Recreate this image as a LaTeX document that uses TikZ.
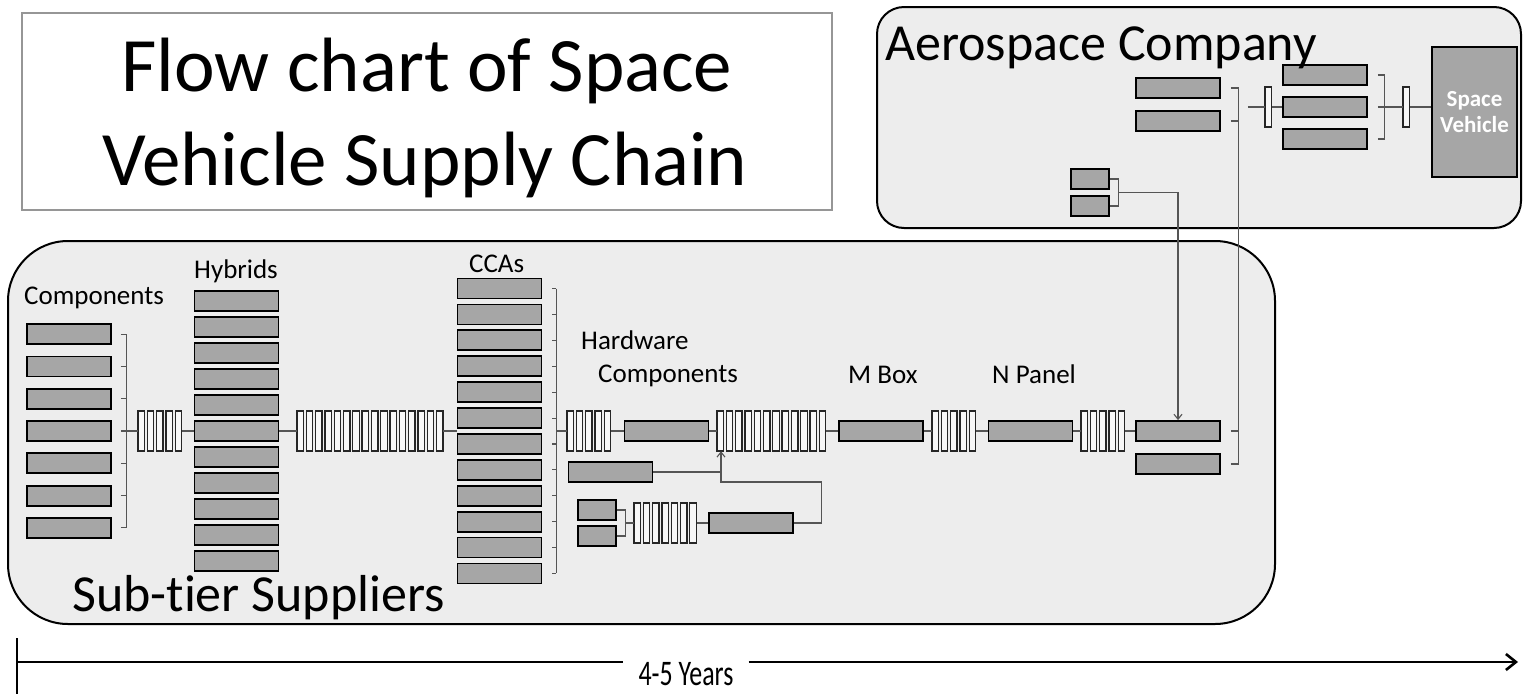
\documentclass[tikz,border=0pt]{standalone}
\usepackage{fontspec}
\setmainfont{Carlito}[Ligatures=NoCommon]
\usepackage{graphicx}
\usetikzlibrary{arrows.meta,positioning,calc}
\definecolor{partGray}{RGB}{166,166,166}
\definecolor{tierShade}{RGB}{237,237,237}
\definecolor{frameGray}{RGB}{150,150,150}
\definecolor{wireGray}{RGB}{85,85,85}

\newcommand\lotrow[4]{%
  \node[inner sep=0,minimum width={(#4-1)*9.3+6.5},minimum height=40,anchor=west] (#1) at (#2,#3) {};
  \foreach \k in {1,...,#4}
    \draw[lotbar] ({#2+(\k-1)*9.3},{#3-20}) rectangle ++(6.5,40);
}

\begin{document}
\begin{tikzpicture}[x=1pt,y=-1pt,
  partbox/.style={draw=black,line width=1.8,fill=partGray,minimum width=84,minimum height=20,inner sep=0},
  stubbox/.style={partbox,minimum width=38},
  lotbar/.style={draw=black!85,line width=1.3,fill=white!97!black},
  wire/.style={draw=wireGray,line width=1.1},
  tierframe/.style={draw=black,line width=2,fill=tierShade},
  lbl/.style={anchor=base west,inner sep=0,font=\fontsize{27}{30}\selectfont},
  bigtxt/.style={anchor=base west,inner sep=0,font=\fontsize{52}{60}\selectfont}]
 \useasboundingbox (0,0) rectangle (1523,694);
 \fill[white] (0,0) rectangle (1523,694);
 \node[draw=frameGray,line width=1.2,minimum width=810,minimum height=197,inner sep=0] (titlebox) at (427,111.5) {};
 \node[anchor=base,inner sep=0,font=\fontsize{77}{94}\selectfont] (title1) at (427,91) {Flow chart of Space};
 \node[anchor=base,inner sep=0,font=\fontsize{77}{94}\selectfont] (title2) at (425,185) {Vehicle Supply Chain};
 \draw[tierframe,rounded corners=27] (877,7) rectangle (1521,228);
 \draw[tierframe,rounded corners=60] (8,241) rectangle (1275,624);

 \foreach \i in {1,...,7}
   \node[partbox] (comp\i) at (69,{431+(\i-4)*32.3}) {};
 \lotrow{g1}{138}{431}{5}
 \foreach \i in {1,...,11}
   \node[partbox] (hyb\i) at (236.5,{431+(\i-6)*26}) {};
 \lotrow{g2}{297}{431}{16}
 \foreach \i in {1,...,12}
   \node[partbox] (cca\i) at (499.5,{431+(\i-6.5)*25.9}) {};
 \lotrow{g3}{567}{431}{5}
 \node[partbox] (hw1) at (666.5,431) {};
 \lotrow{g4}{717}{431}{12}
 \node[partbox] (mbox) at (881,431) {};
 \lotrow{g6}{932}{431}{5}
 \node[partbox] (npanel) at (1030.5,431) {};
 \lotrow{g7}{1081}{431}{5}
 \node[partbox] (fin1) at (1178,431) {};
 \node[partbox] (fin2) at (1178,464) {};
 \node[partbox] (hw2) at (610.5,472) {};
 \node[stubbox] (s1) at (597,510) {};
 \node[stubbox] (s2) at (597,536) {};
 \lotrow{g5}{634}{523}{7}
 \node[partbox] (lb) at (751,523) {};

 \node[partbox] (aero1) at (1178,88) {};
 \node[partbox] (aero2) at (1178,121) {};
 \lotrow{a1}{1265}{107}{1}
 \foreach \i in {1,2,3}
   \node[partbox] (ab\i) at (1325,{75+(\i-1)*32}) {};
 \lotrow{a2}{1403}{107}{1}
 \node[partbox,minimum width=85,minimum height=130,text=white,align=center,
   font=\bfseries\fontsize{23}{26}\selectfont] (sv) at (1474.5,112) {Space\\Vehicle};
 \node[stubbox] (sa1) at (1090,179) {};
 \node[stubbox] (sa2) at (1090,206) {};

 \foreach \i in {1,...,7}
   \draw[wire] ([xshift=9]comp\i.east) -- ([xshift=15]comp\i.east);
 \draw[wire] ([xshift=15]comp1.east) -- ([xshift=15]comp7.east);
 \draw[wire] ([xshift=15]comp4.east) -- (g1.west);
 \draw[wire] (g1.east) -- (hyb6.west);
 \draw[wire] (hyb6.east) -- (g2.west);
 \draw[wire] (g2.east) -- (g2.east -| cca1.west);
 \foreach \i in {1,...,12}
   \draw[wire] ([xshift=10]cca\i.east) -- ([xshift=14]cca\i.east);
 \draw[wire] ([xshift=14]cca1.east) coordinate (ccatop) -- ([xshift=14]cca12.east);
 \draw[wire] (g3.west -| ccatop) -- (g3.west);
 \draw[wire] (g3.east) -- (hw1.west);
 \draw[wire] (hw1.east) -- (g4.west);
 \draw[wire] (g4.east) -- (mbox.west);
 \draw[wire] (mbox.east) -- (g6.west);
 \draw[wire] (g6.east) -- (npanel.west);
 \draw[wire] (npanel.east) -- (g7.west);
 \draw[wire] (g7.east) -- (fin1.west);

 \draw[wire] (s1.east) -- ++(9,0) coordinate (stop) -- ([xshift=9]s2.east) coordinate (sbot) -- (s2.east);
 \draw[wire] ($(stop)!.5!(sbot)$) -- (g5.west);
 \draw[wire] (g5.east) -- (lb.west);
 \coordinate (g4in) at ([xshift=4]g4.south west);
 \draw[wire,-{Straight Barb[length=5,width=8]}] (lb.east) -| ++(28,-41) -| (g4in);
 \draw[wire] (hw2.east) -- (hw2.east -| g4in);

 \foreach \b in {aero1,aero2,fin1,fin2}
   \draw[wire] ([xshift=10]\b.east) -- ([xshift=18]\b.east);
 \draw[wire] ([xshift=18]aero1.east) -- ([xshift=18]fin2.east);
 \draw[wire] ([xshift=27]aero1.east |- a1.west) -- (a1.west);
 \draw[wire] (a1.east) -- (ab2.west);
 \foreach \i in {1,3}
   \draw[wire] ([xshift=10]ab\i.east) -- ([xshift=17]ab\i.east);
 \draw[wire] ([xshift=17]ab1.east) -- ([xshift=17]ab3.east);
 \draw[wire] ([xshift=10]ab2.east) -- (a2.west);
 \draw[wire] (a2.east) -- (a2.east -| sv.west);
 \draw[wire] (sa1.east) -- ++(9,0) coordinate (satop) -- ([xshift=9]sa2.east) coordinate (sabot) -- (sa2.east);
 \draw[wire,-{Straight Barb[length=5,width=8]}] ($(satop)!.5!(sabot)$) -| (fin1.north);

 \node[lbl] (complbl) at (24,304) {Components};
 \node[lbl] (hyblbl) at (194,278) {Hybrids};
 \node[lbl] (ccalbl) at (469,272) {CCAs};
 \node[lbl] (hwlbl) at (581,349) {Hardware};
 \node[lbl] (hwlbl2) at (598,382) {Components};
 \node[lbl] (mboxlbl) at (848,383) {M Box};
 \node[lbl] (npanellbl) at (992,383) {N Panel};
 \node[bigtxt] (tierlbl) at (72,611) {Sub-tier Suppliers};
 \node[bigtxt] (aerolbl) at (885,60) {Aerospace Company};

 \draw[line width=2.6] (17,638) -- (17,694);
 \coordinate (axstart) at (17,662);
 \coordinate (axend) at (1518,662);
 \node[anchor=base,inner xsep=15,inner ysep=0,font=\fontsize{36}{40}\selectfont] (yrs) at (686,685) {\scalebox{0.72}[1]{4-5 Years}};
 \draw[line width=2.6] (axstart) -- (axstart -| yrs.west);
 \draw[line width=2.6,-{Straight Barb[length=10,width=16]}] (yrs.east |- axstart) -- (axend);
\end{tikzpicture}
\end{document}
